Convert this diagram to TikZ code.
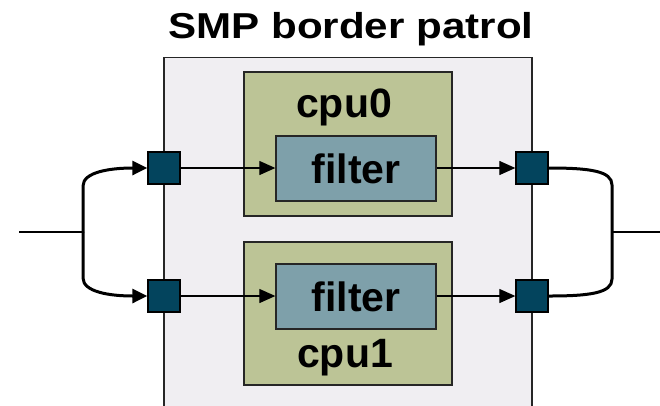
\documentclass[tikz,border=0pt]{standalone}
\usepackage{fontspec}
\setmainfont{Liberation Sans}
\newfontface\titlefont{Liberation Sans Bold}[FakeStretch=1.17]
\usetikzlibrary{arrows.meta}
\definecolor{boardfill}{HTML}{F0EEF2}
\definecolor{cpufill}{HTML}{BCC496}
\definecolor{filterfill}{HTML}{7EA0AA}
\definecolor{portfill}{HTML}{03445D}
\tikzset{
  board/.style={draw=black!85, line width=1.3bp, fill=boardfill},
  cpubox/.style={draw=black!85, line width=1.3bp, fill=cpufill,
    minimum width=208bp, minimum height=144bp, inner sep=0pt},
  filterbox/.style={draw=black!85, line width=1.3bp, fill=filterfill,
    minimum width=160bp, minimum height=65bp, inner sep=0pt,
    font=\bfseries\fontsize{41bp}{44bp}\selectfont},
  port/.style={draw=black, line width=1.3bp, fill=portfill,
    minimum size=32bp, inner sep=0pt},
  lbl/.style={anchor=base, inner sep=0pt, font=\bfseries\fontsize{41bp}{44bp}\selectfont},
  flow/.style={line width=1.2bp, -{Triangle[length=16bp,width=14bp]}},
  fork/.style={line width=3bp, line cap=round},
  forkarrow/.style={fork, -{Triangle[length=15bp,width=14bp]}},
  wire/.style={line width=1.2bp}
}
\begin{document}
\begin{tikzpicture}[x=1bp, y=-1bp]
\useasboundingbox (0,0) rectangle (660,405);

% title and enclosing board
\node[anchor=base, inner sep=0pt, font=\titlefont\fontsize{36bp}{40bp}\selectfont]
  (title) at (351,38) {SMP border patrol};
\node[board, anchor=north, minimum width=368bp, minimum height=370bp, inner sep=0pt]
  (smp) at (348,57) {};

% the two processors
\node[cpubox] (cpu0) at (348,144) {};
\node[cpubox, minimum height=143bp] (cpu1) at (348,313.5) {};
\node[lbl] (cpu0lbl) at (344,117) {cpu0};
\node[lbl] (cpu1lbl) at (345,367) {cpu1};

% filters
\node[filterbox] (f0) at (356,168.5) {filter};
\node[filterbox] (f1) at (356,296.5) {filter};

% ports on the board edge
\node[port] (pl0) at (164,168) {};
\node[port] (pl1) at (164,296) {};
\node[port] (pr0) at (532,168) {};
\node[port] (pr1) at (532,296) {};

% data flow through each processor
\draw[flow] (pl0.east) -- (pl0.east -| f0.west);
\draw[flow] (pl1.east) -- (pl1.east -| f1.west);
\draw[flow] (f0.east |- pr0.west) -- (pr0.west);
\draw[flow] (f1.east |- pr1.west) -- (pr1.west);

% incoming split
\coordinate (inL) at (19,232);
\coordinate (jl) at (83,232);
\draw[wire] (inL) -- (jl);
\draw[forkarrow] (jl) -- (83,186) .. controls (83,172) and (110,168) .. (pl0.west);
\draw[forkarrow] (jl) -- (83,278) .. controls (83,292) and (110,296) .. (pl1.west);

% outgoing merge
\coordinate (jr) at (612,232);
\coordinate (outR) at (660,232);
\draw[fork] (pr0.east) .. controls (590,168) and (612,171) .. (612,185)
  -- (612,279) .. controls (612,293) and (590,296) .. (pr1.east);
\draw[wire] (jr) -- (outR);
\end{tikzpicture}
\end{document}
